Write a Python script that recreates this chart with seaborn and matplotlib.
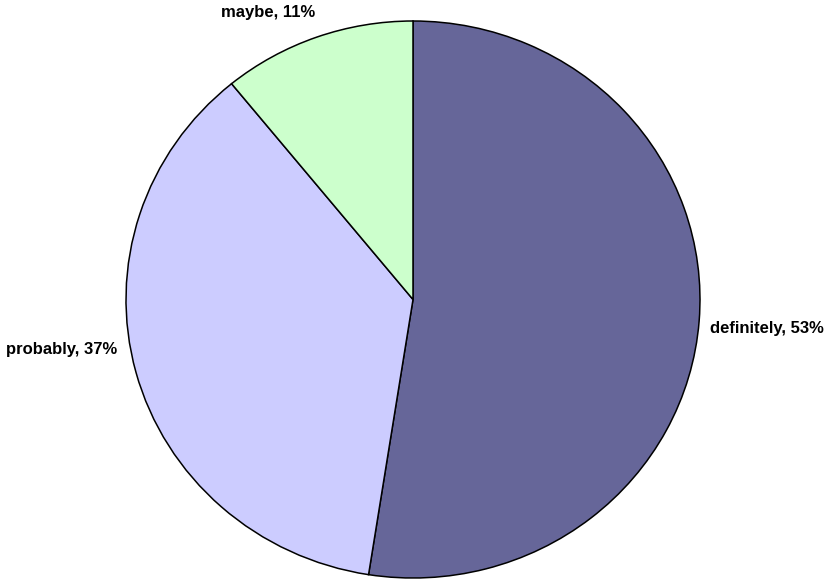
import matplotlib
matplotlib.use("Agg")
import matplotlib.pyplot as plt
import seaborn as sns
import numpy as np

# Survey answers and their shares (percent)
categories = ["definitely", "probably", "maybe"]
shares = [53, 37, 11]
colors = ["#666699", "#CCCCFF", "#CCFFCC"]

sns.set_theme(style="white")
plt.rcParams["font.family"] = ["Liberation Sans", "DejaVu Sans"]

W, H = 828, 579
fig = plt.figure(figsize=(W / 100, H / 100), dpi=100)
fig.patch.set_facecolor("white")

# pie area in pixels (left, top, right, bottom)
px_l, px_t, px_r, px_b = 126, 21, 700, 578
ax = fig.add_axes([px_l / W, 1 - px_b / H, (px_r - px_l) / W, (px_b - px_t) / H])

labels = [f"{c}, {s}%" for c, s in zip(categories, shares)]
wedges, texts = ax.pie(
    shares,
    colors=colors,
    startangle=90,
    counterclock=False,
    labels=labels,
    labeldistance=1.1,
    wedgeprops=dict(edgecolor="black", linewidth=1.1),
    textprops=dict(fontsize=12, fontweight="bold", color="black"),
)
ax.set_aspect("auto")
ax.set_xlim(-1, 1)
ax.set_ylim(-1, 1)
ax.axis("off")

# label placement: (x, y, horizontal alignment) in axes data units
label_layout = [(1.035, -0.105, "left"), (-1.03, -0.18, "right"), (-0.34, 1.03, "right")]
for t, (x, y, ha) in zip(texts, label_layout):
    t.set_position((x, y))
    t.set_ha(ha)
    t.set_va("center")
    t.set_clip_on(False)

fig.savefig("out.png", dpi=100, facecolor="white")
